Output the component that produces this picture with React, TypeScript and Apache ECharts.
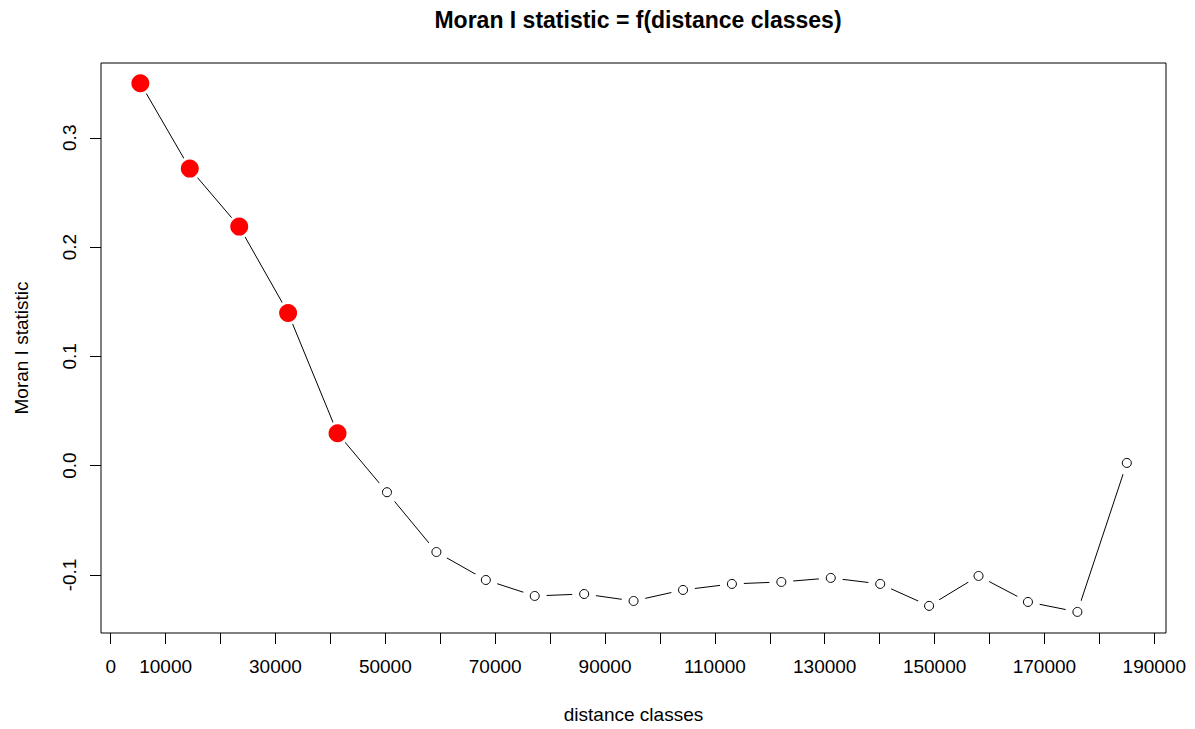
import React, { useEffect, useRef } from "react";
import * as echarts from "echarts";

// distance class centres (x) and Moran's I values (y)
const distanceClasses = [
  5400, 14400, 23400, 32300, 41300, 50300, 59300, 68300, 77200, 86200, 95200,
  104200, 113100, 122100, 131100, 140100, 149000, 158000, 167000, 176000, 185000,
];
const moranI = [
  0.3499, 0.2718, 0.2187, 0.1397, 0.0296, -0.0243, -0.079, -0.1046, -0.1192,
  -0.1174, -0.1238, -0.1137, -0.1082, -0.1064, -0.1027, -0.1082, -0.1283,
  -0.1009, -0.1247, -0.1338, 0.0025,
];
const significant = [
  true, true, true, true, true, false, false, false, false, false, false,
  false, false, false, false, false, false, false, false, false, false,
];
const xTicks = [
  0, 10000, 20000, 30000, 40000, 50000, 60000, 70000, 80000, 90000, 100000,
  110000, 120000, 130000, 140000, 150000, 160000, 170000, 180000, 190000,
];
const xTickLabels = [
  0, 10000, 30000, 50000, 70000, 90000, 110000, 130000, 150000, 170000, 190000,
];
const yTicks = [-0.1, 0, 0.1, 0.2, 0.3];

const FONT = "'Liberation Sans', Arial, Helvetica, sans-serif";

export default function App() {
  const ref = useRef<HTMLDivElement>(null);
  useEffect(() => {
    document.body.style.margin = "0";
    if (!ref.current) return;
    const chart = echarts.init(ref.current, null, { renderer: "svg" });
    const pts = distanceClasses.map((d, i) => [d, moranI[i]]);
    const sigPts = pts.filter((_, i) => significant[i]);
    const nsPts = pts.filter((_, i) => !significant[i]);
    chart.setOption({
      animation: false,
      backgroundColor: "#ffffff",
      textStyle: { fontFamily: FONT },
      title: {
        text: "Moran I statistic = f(distance classes)",
        left: 633,
        textAlign: "center",
        top: 3,
        textStyle: { fontFamily: FONT, fontSize: 23, fontWeight: "bold", color: "#000" },
      },
      grid: {
        left: 101,
        right: 29,
        top: 63,
        bottom: 96,
        show: true,
        borderColor: "#000",
        borderWidth: 1,
        backgroundColor: "transparent",
      },
      xAxis: {
        type: "value",
        min: -1766,
        max: 192133,
        name: "distance classes",
        nameLocation: "middle",
        nameGap: 72,
        nameTextStyle: { fontFamily: FONT, fontSize: 19, color: "#000" },
        axisLine: { show: false, onZero: false },
        splitLine: { show: false },
        axisTick: {
          show: true,
          inside: false,
          length: 11,
          lineStyle: { color: "#000", width: 1 },
          customValues: xTicks,
        },
        axisLabel: {
          fontFamily: FONT,
          fontSize: 19,
          color: "#000",
          margin: 24,
          customValues: xTickLabels,
          formatter: (v: number) => String(v),
        },
      },
      yAxis: {
        type: "value",
        min: -0.1531,
        max: 0.3684,
        name: "Moran I statistic",
        nameLocation: "middle",
        nameGap: 70,
        nameTextStyle: { fontFamily: FONT, fontSize: 19, color: "#000" },
        axisLine: { show: false, onZero: false },
        splitLine: { show: false },
        axisTick: {
          show: true,
          length: 11,
          lineStyle: { color: "#000", width: 1 },
          customValues: yTicks,
        },
        axisLabel: {
          fontFamily: FONT,
          fontSize: 19,
          color: "#000",
          rotate: 90,
          margin: 22,
          customValues: yTicks,
          formatter: (v: number) => v.toFixed(1),
        },
      },
      series: [
        {
          type: "line",
          data: pts,
          showSymbol: false,
          symbol: "none",
          lineStyle: { color: "#000", width: 1 },
          z: 1,
        },
        {
          type: "scatter",
          data: pts,
          symbol: "circle",
          symbolSize: 24,
          itemStyle: { color: "#ffffff", opacity: 1 },
          z: 2,
          silent: true,
        },
        {
          type: "scatter",
          data: nsPts,
          symbol: "circle",
          symbolSize: 9,
          itemStyle: { color: "#ffffff", borderColor: "#000", borderWidth: 1, opacity: 1 },
          z: 3,
        },
        {
          type: "scatter",
          data: sigPts,
          symbol: "circle",
          symbolSize: 18,
          itemStyle: { color: "#ff0000", opacity: 1 },
          z: 4,
        },
      ],
    });
    return () => chart.dispose();
  }, []);
  return <div ref={ref} style={{ width: 1195, height: 729 }} />;
}
